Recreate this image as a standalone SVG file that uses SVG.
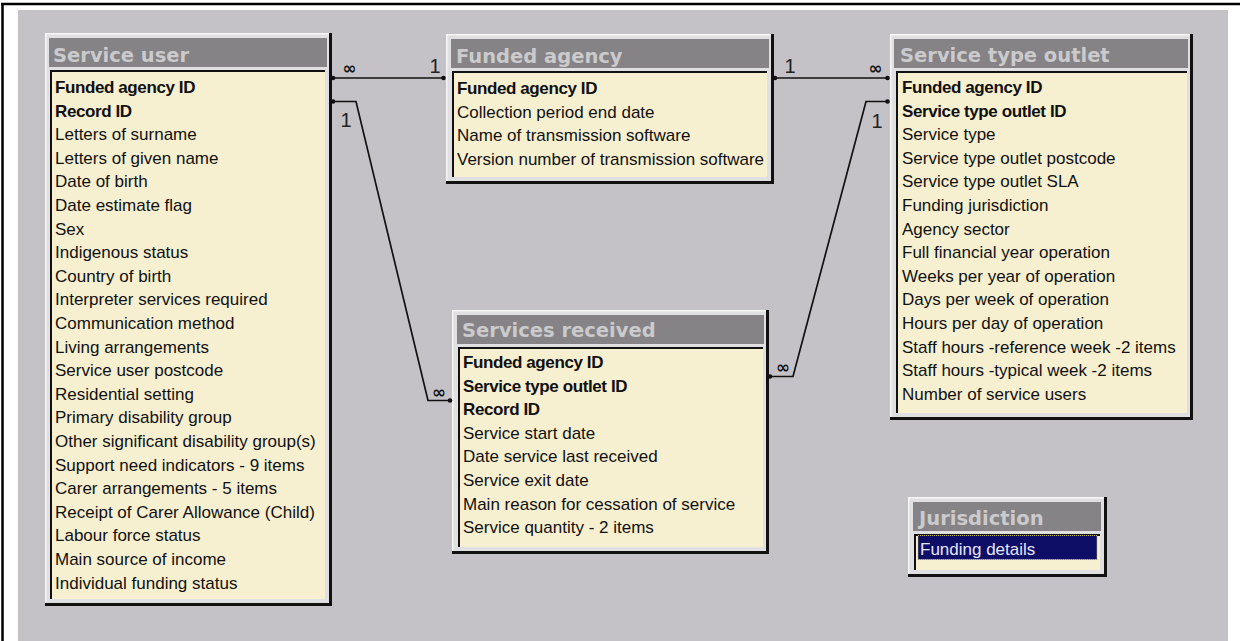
<svg xmlns="http://www.w3.org/2000/svg" width="1242" height="641" viewBox="0 0 1242 641">
<style>
.frame{fill:#e0dfe1}
.hl{stroke:#f6f6f6;stroke-width:1.5;fill:none}
.dk{stroke:#111;stroke-width:3;fill:none}
.tb{fill:#858386}
.tt{font-family:"DejaVu Sans",sans-serif;font-weight:bold;font-size:19.5px;fill:#cbcacc}
.lb{stroke:#111;stroke-width:2;fill:none}
.cr{fill:#f6efd0}
.f{font-family:"Liberation Sans",Arial,sans-serif;font-size:17px;fill:#111}
.k{font-weight:bold;letter-spacing:-0.4px}
.ln{stroke:#111;stroke-width:1.7;fill:none}
.dot{fill:#111}
.one{font-family:"Liberation Sans",Arial,sans-serif;font-size:20px;fill:#222;text-anchor:middle}
.inf{font-family:"DejaVu Sans",sans-serif;font-weight:bold;font-size:17px;fill:#111;text-anchor:middle}
</style>
<rect x="0" y="0" width="1242" height="641" fill="#ffffff"/>
<rect x="18" y="10" width="1210" height="631" fill="#c4c2c6"/>
<path d="M1 4H1240M2.5 3V641" stroke="#000" stroke-width="2.5" fill="none"/>

<g id="service-user">
<rect class="frame" x="45" y="33" width="287" height="573"/>
<path class="hl" d="M45.75 604V33.75H330"/>
<path class="dk" d="M330.5 33V606M45 604.5H332"/>
<rect class="tb" x="49" y="38" width="278" height="29"/>
<text class="tt" x="53" y="62">Service user</text>
<rect class="cr" x="50" y="70" width="275" height="529"/>
<path class="lb" d="M51 599V71H325"/>
<g class="f">
<text class="k" x="55" y="93">Funded agency ID</text>
<text class="k" x="55" y="116.6">Record ID</text>
<text x="55" y="140.2">Letters of surname</text>
<text x="55" y="163.8">Letters of given name</text>
<text x="55" y="187.4">Date of birth</text>
<text x="55" y="211">Date estimate flag</text>
<text x="55" y="234.6">Sex</text>
<text x="55" y="258.2">Indigenous status</text>
<text x="55" y="281.8">Country of birth</text>
<text x="55" y="305.4">Interpreter services required</text>
<text x="55" y="329">Communication method</text>
<text x="55" y="352.6">Living arrangements</text>
<text x="55" y="376.2">Service user postcode</text>
<text x="55" y="399.8">Residential setting</text>
<text x="55" y="423.4">Primary disability group</text>
<text x="55" y="447">Other significant disability group(s)</text>
<text x="55" y="470.6">Support need indicators - 9 items</text>
<text x="55" y="494.2">Carer arrangements - 5 items</text>
<text x="55" y="517.8">Receipt of Carer Allowance (Child)</text>
<text x="55" y="541.4">Labour force status</text>
<text x="55" y="565">Main source of income</text>
<text x="55" y="588.6">Individual funding status</text>
</g>
</g>

<g id="funded-agency">
<rect class="frame" x="446" y="34" width="328" height="150"/>
<path class="hl" d="M446.75 182V34.75H772"/>
<path class="dk" d="M772.5 34V184M446 182.5H774"/>
<rect class="tb" x="451" y="39" width="318" height="29"/>
<text class="tt" x="456" y="63">Funded agency</text>
<rect class="cr" x="452" y="71" width="315" height="106"/>
<path class="lb" d="M453 177V72H767"/>
<g class="f">
<text class="k" x="457" y="94">Funded agency ID</text>
<text x="457" y="117.6">Collection period end date</text>
<text x="457" y="141.2">Name of transmission software</text>
<text x="457" y="164.8">Version number of transmission software</text>
</g>
</g>

<g id="service-type-outlet">
<rect class="frame" x="890" y="34" width="303" height="386"/>
<path class="hl" d="M890.75 418V34.75H1191"/>
<path class="dk" d="M1191.5 34V420M890 418.5H1193"/>
<rect class="tb" x="894" y="39" width="294" height="29"/>
<text class="tt" x="900" y="62">Service type outlet</text>
<rect class="cr" x="896" y="71" width="291" height="342"/>
<path class="lb" d="M897 413V72H1187"/>
<g class="f">
<text class="k" x="902" y="93">Funded agency ID</text>
<text class="k" x="902" y="116.6">Service type outlet ID</text>
<text x="902" y="140.2">Service type</text>
<text x="902" y="163.8">Service type outlet postcode</text>
<text x="902" y="187.4">Service type outlet SLA</text>
<text x="902" y="211">Funding jurisdiction</text>
<text x="902" y="234.6">Agency sector</text>
<text x="902" y="258.2">Full financial year operation</text>
<text x="902" y="281.8">Weeks per year of operation</text>
<text x="902" y="305.4">Days per week of operation</text>
<text x="902" y="329">Hours per day of operation</text>
<text x="902" y="352.6">Staff hours -reference week -2 items</text>
<text x="902" y="376.2">Staff hours -typical week -2 items</text>
<text x="902" y="399.8">Number of service users</text>
</g>
</g>

<g id="services-received">
<rect class="frame" x="452" y="310" width="317" height="244"/>
<path class="hl" d="M452.75 552V310.75H767"/>
<path class="dk" d="M767.5 310V554M452 552.5H769"/>
<rect class="tb" x="457" y="315" width="307" height="29"/>
<text class="tt" x="462" y="337">Services received</text>
<rect class="cr" x="458" y="347" width="305" height="200"/>
<path class="lb" d="M459 547V348H763"/>
<g class="f">
<text class="k" x="463" y="368">Funded agency ID</text>
<text class="k" x="463" y="391.6">Service type outlet ID</text>
<text class="k" x="463" y="415.2">Record ID</text>
<text x="463" y="438.8">Service start date</text>
<text x="463" y="462.4">Date service last received</text>
<text x="463" y="486">Service exit date</text>
<text x="463" y="509.6">Main reason for cessation of service</text>
<text x="463" y="533.2">Service quantity - 2 items</text>
</g>
</g>

<g id="jurisdiction">
<rect class="frame" x="908" y="497" width="199" height="80"/>
<path class="hl" d="M908.75 575V497.75H1105"/>
<path class="dk" d="M1105.5 497V577M908 575.5H1107"/>
<rect class="tb" x="913" y="502" width="188" height="29"/>
<text class="tt" x="919" y="525">Jurisdiction</text>
<rect class="cr" x="914" y="534" width="186" height="36"/>
<path class="lb" d="M915 570V535H1100"/>
<rect x="918" y="535.5" width="179" height="24" fill="#0e0e66" stroke="#c8c040" stroke-width="1" stroke-dasharray="1 1"/>
<text class="f" x="920" y="555" style="fill:#e6e6ff">Funding details</text>
</g>

<g id="connectors">
<path class="ln" d="M332 78H444"/>
<path class="ln" d="M332 101.5H356L428 400.5H450"/>
<path class="ln" d="M774 78H888"/>
<path class="ln" d="M769 376.5H793L866 101.5H888"/>
<circle class="dot" cx="333" cy="78" r="2.3"/>
<circle class="dot" cx="443.5" cy="78" r="2.3"/>
<circle class="dot" cx="333" cy="101.5" r="2.3"/>
<circle class="dot" cx="450" cy="400.5" r="2.3"/>
<circle class="dot" cx="775" cy="78" r="2.3"/>
<circle class="dot" cx="887.5" cy="78" r="2.3"/>
<circle class="dot" cx="770" cy="376.5" r="2.3"/>
<circle class="dot" cx="887.5" cy="101.5" r="2.3"/>
<text class="inf" x="349.5" y="74">∞</text>
<text class="one" x="435" y="73">1</text>
<text class="one" x="346" y="127">1</text>
<text class="inf" x="439" y="397.5">∞</text>
<text class="one" x="790" y="73">1</text>
<text class="inf" x="875.5" y="74">∞</text>
<text class="one" x="877" y="128">1</text>
<text class="inf" x="783" y="372.5">∞</text>
</g>
</svg>
